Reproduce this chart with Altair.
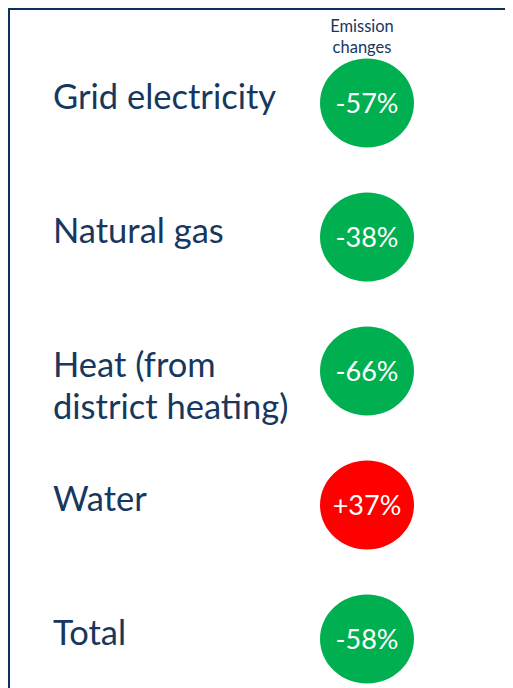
import altair as alt
import pandas as pd

categories = ["Grid electricity", "Natural gas", "Heat (from district heating)", "Water", "Total"]
display_labels = ["Grid electricity", "Natural gas", "Heat (from\ndistrict heating)", "Water", "Total"]
changes = [-57, -38, -66, 37, -58]
header = "Emission\nchanges"

NAVY = "#17375E"
BORDER = "#0F2F5F"
GREEN = "#00B050"
RED = "#FF0000"
FONT = "Lato"

df = pd.DataFrame({"category": categories, "label": display_labels, "change": changes})

base = alt.Chart(df).transform_calculate(
    txt="(datum.change > 0 ? '+' : '') + datum.change + '%'"
)

yenc = alt.Y("category:N", sort=categories, axis=None,
             scale=alt.Scale(type="point", range=[95, 631], padding=0))

labels = base.mark_text(
    align="left", baseline="alphabetic", dy=6, fontSize=34.5, font=FONT,
    color=NAVY, lineBreak="\n", lineHeight=42
).encode(x=alt.value(45), y=yenc, text="label:N")

ellipse = "M-1,0A1,0.947,0,1,1,1,0A1,0.947,0,1,1,-1,0Z"
circles = base.mark_point(
    shape=ellipse, size=94 * 94, filled=True, opacity=1, strokeWidth=0
).encode(
    x=alt.value(359), y=yenc,
    color=alt.condition("datum.change > 0", alt.value(RED), alt.value(GREEN)),
)

values = base.mark_text(
    align="center", baseline="alphabetic", dy=10, fontSize=27, font=FONT, color="white"
).encode(x=alt.value(359), y=yenc, text="txt:N")

head = alt.Chart(pd.DataFrame({"t": [header]})).mark_text(
    align="center", baseline="alphabetic", fontSize=16.5, font=FONT, color=NAVY,
    lineBreak="\n", lineHeight=21
).encode(x=alt.value(354), y=alt.value(24), text="t:N")

top_rule = alt.Chart(pd.DataFrame({"a": [0]})).mark_rule(
    color=BORDER, strokeWidth=3
).encode(x=alt.value(0), x2=alt.value(520), y=alt.value(0.5))

left_rule = alt.Chart(pd.DataFrame({"a": [0]})).mark_rule(
    color=BORDER, strokeWidth=3
).encode(x=alt.value(0.5), y=alt.value(0), y2=alt.value(700))

chart = alt.layer(top_rule, left_rule, head, circles, values, labels).properties(
    width=497, height=680, padding=0,
    autosize=alt.AutoSizeParams(type="none"),
).configure_view(stroke=None)

chart.save("out.html", embed_options={"renderer": "svg", "actions": False})
